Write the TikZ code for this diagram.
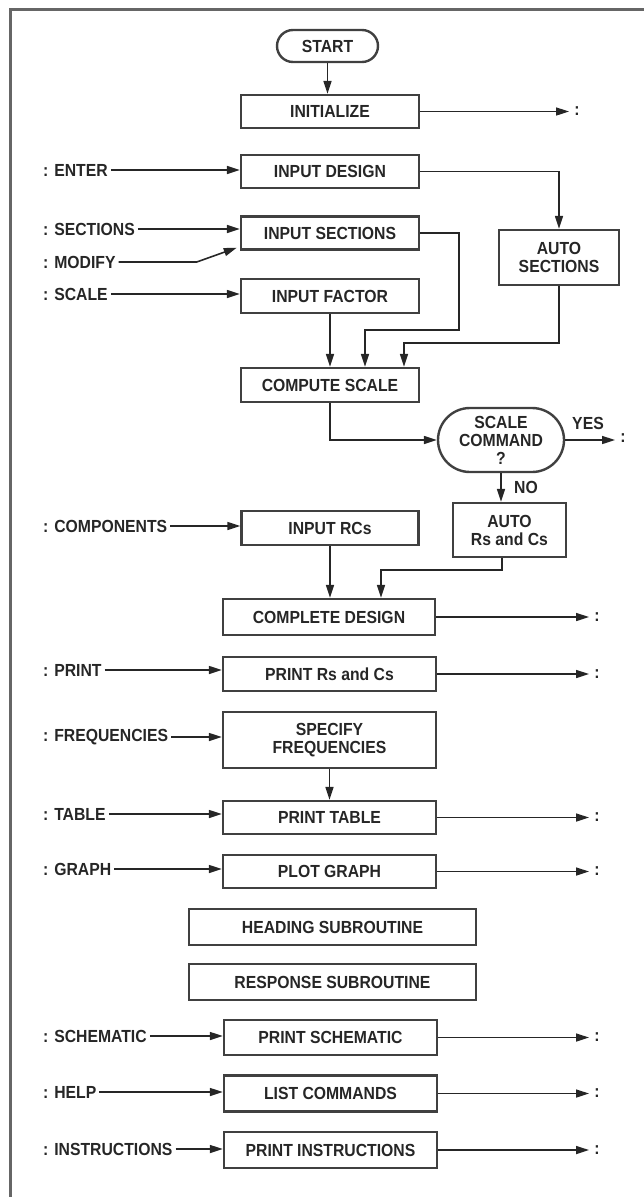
\documentclass[tikz,border=0pt]{standalone}
\usepackage{fontspec}
\setmainfont{Liberation Sans}[FakeStretch=0.9]
\usetikzlibrary{arrows.meta,calc}
\begin{document}
\begin{tikzpicture}[x=1pt,y=-1pt,
  font=\fontsize{17.5}{18}\selectfont\bfseries,
  box/.style={draw=black!75, line width=2.4pt, text=black!85, inner sep=0pt, align=center},
  pill/.style={box, rounded corners=#1},
  lbl/.style={anchor=west, inner xsep=3pt, inner ysep=1pt, text=black!85},
  col/.style={inner sep=0pt, outer sep=0pt, minimum width=16pt, text=black!85},
  arr/.style={draw=black!85, line width=1.6pt, -{Triangle[length=13pt,width=8pt]}},
  frameline/.style={draw=black!60, line width=3pt}]
\useasboundingbox (0,0) rectangle (644,1197);
\draw[frameline] (10,1197) -- (10,9) -- (644,9);

% boxes
\node[pill=16pt, minimum width=101pt, minimum height=32pt] (start) at (327.5,46) {START};
\node[box, minimum width=178pt, minimum height=33pt] (init) at (330,111.5) {INITIALIZE};
\node[box, minimum width=178pt, minimum height=33pt] (indesign) at (330,171.5) {INPUT DESIGN};
\node[box, minimum width=178pt, minimum height=33pt] (insec) at (330,233) {INPUT SECTIONS};
\node[box, minimum width=178pt, minimum height=34pt] (infactor) at (330,296) {INPUT FACTOR};
\node[box, minimum width=120pt, minimum height=55pt] (autosec) at (559,257.5) {AUTO\\SECTIONS};
\node[box, minimum width=178pt, minimum height=34pt] (compute) at (330,385) {COMPUTE SCALE};
\node[pill=32pt, minimum width=126pt, minimum height=64pt] (scalecmd) at (501,440) {SCALE\\COMMAND\\?};
\node[box, minimum width=177pt, minimum height=34pt] (inrc) at (330,528) {INPUT RCs};
\node[box, minimum width=113pt, minimum height=54pt] (autorc) at (509.5,530) {AUTO\\Rs and Cs};
\node[box, minimum width=212pt, minimum height=36pt] (complete) at (329,617) {COMPLETE DESIGN};
\node[box, minimum width=213pt, minimum height=34pt] (printrc) at (329.5,674) {PRINT Rs and Cs};
\node[box, minimum width=213pt, minimum height=56pt] (specify) at (329.5,740) {SPECIFY\\FREQUENCIES};
\node[box, minimum width=213pt, minimum height=33pt] (printtable) at (329.5,817.5) {PRINT TABLE};
\node[box, minimum width=213pt, minimum height=33pt] (plotgraph) at (329.5,871.5) {PLOT GRAPH};
\node[box, minimum width=287pt, minimum height=36pt] (heading) at (332.5,927) {HEADING SUBROUTINE};
\node[box, minimum width=287pt, minimum height=36pt] (response) at (332.5,982) {RESPONSE SUBROUTINE};
\node[box, minimum width=213pt, minimum height=35pt] (printschem) at (330.5,1037.5) {PRINT SCHEMATIC};
\node[box, minimum width=213pt, minimum height=36pt] (listcmd) at (330.5,1093.5) {LIST COMMANDS};
\node[box, minimum width=213pt, minimum height=36pt] (printinstr) at (330.5,1150) {PRINT INSTRUCTIONS};

% left labels
\node[lbl] (lenter) at (40,170) {: ENTER};
\node[lbl] (lsec) at (40,229) {: SECTIONS};
\node[lbl] (lmod) at (40,262) {: MODIFY};
\node[lbl] (lscale) at (40,294) {: SCALE};
\node[lbl] (lcomp) at (40,526) {: COMPONENTS};
\node[lbl] (lprint) at (40,670) {: PRINT};
\node[lbl] (lfreq) at (40,737) {: FREQUENCIES};
\node[lbl] (ltable) at (40,814) {: TABLE};
\node[lbl] (lgraph) at (40,869) {: GRAPH};
\node[lbl] (lschem) at (40,1036) {: SCHEMATIC};
\node[lbl] (lhelp) at (40,1092) {: HELP};
\node[lbl] (linstr) at (40,1149) {: INSTRUCTIONS};

% right colons
\node[col] (cinit) at (577,111.5) {:};
\node[col] (cyes) at (623,438) {:};
\node[col] (ccomp) at (597,617) {:};
\node[col] (cprint) at (597,674) {:};
\node[col] (ctable) at (597,817.5) {:};
\node[col] (cgraph) at (597,871.5) {:};
\node[col] (cschem) at (597,1037.5) {:};
\node[col] (chelp) at (597,1093.5) {:};
\node[col] (cinstr) at (597,1150) {:};

\node[text=black!85, inner sep=0pt] (yes) at (588,423) {YES};
\node[text=black!85, inner sep=0pt] (no) at (526,487) {NO};

% main flow
\draw[arr] (start.south) -- (start.south |- init.north);
\draw[arr] (init.east) -- (cinit.west);
\draw[arr] (indesign.east) -| (autosec.north);
\draw[arr] (insec.east) -- ++(39,0) -- ++(0,97) -| ([xshift=35pt]compute.north);
\draw[arr] (infactor.south) -- (compute.north);
\draw[arr] (autosec.south) -- ++(0,57) -| ([xshift=74pt]compute.north);
\draw[arr] (compute.south) |- (scalecmd.west);
\draw[arr] (scalecmd.east) -- (cyes.west |- scalecmd.east);
\draw[arr] (scalecmd.south) -- (scalecmd.south |- autorc.north);
\draw[arr] (inrc.south) -- (inrc.south |- complete.north);
\draw[arr] ([xshift=-7.5pt]autorc.south) -- ++(0,12) -| ([xshift=52pt]complete.north);
\draw[arr] (specify.south) -- (printtable.north);

% inputs
\draw[arr] (lenter.east) -- (lenter.east -| indesign.west);
\draw[arr] (lsec.east) -- (lsec.east -| insec.west);
\draw[arr] (lmod.east) -- ++(78,0) -- ($(insec.south west)+(-3,-3)$);
\draw[arr] (lscale.east) -- (lscale.east -| infactor.west);
\draw[arr] (lcomp.east) -- (lcomp.east -| inrc.west);
\draw[arr] (lprint.east) -- (lprint.east -| printrc.west);
\draw[arr] (lfreq.east) -- (lfreq.east -| specify.west);
\draw[arr] (ltable.east) -- (ltable.east -| printtable.west);
\draw[arr] (lgraph.east) -- (lgraph.east -| plotgraph.west);
\draw[arr] (lschem.east) -- (lschem.east -| printschem.west);
\draw[arr] (lhelp.east) -- (lhelp.east -| listcmd.west);
\draw[arr] (linstr.east) -- (linstr.east -| printinstr.west);

% outputs
\draw[arr] (complete.east) -- (ccomp.west);
\draw[arr] (printrc.east) -- (cprint.west);
\draw[arr] (printtable.east) -- (ctable.west);
\draw[arr] (plotgraph.east) -- (cgraph.west);
\draw[arr] (printschem.east) -- (cschem.west);
\draw[arr] (listcmd.east) -- (chelp.west);
\draw[arr] (printinstr.east) -- (cinstr.west);
\end{tikzpicture}
\end{document}
